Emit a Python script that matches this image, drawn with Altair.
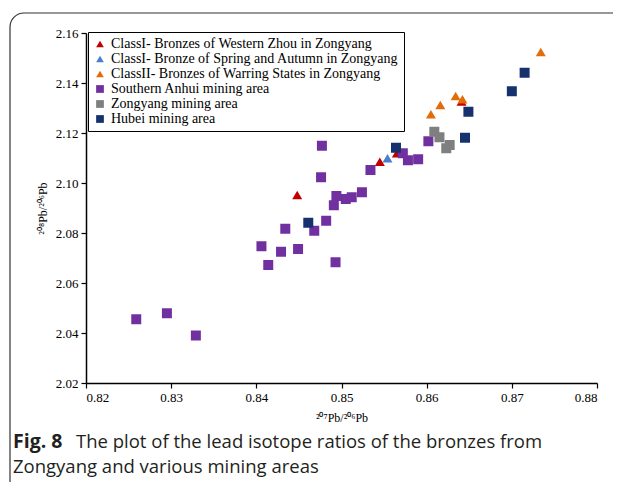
import altair as alt
import pandas as pd

# ---- data ----
series_names = [
    "ClassI- Bronzes of Western Zhou in Zongyang",
    "ClassI- Bronze of Spring and Autumn in Zongyang",
    "ClassII- Bronzes of Warring States in Zongyang",
    "Southern Anhui mining area",
    "Zongyang mining area",
    "Hubei mining area",
]
series_colors = ["#C00000", "#4A7FD0", "#E36C0A", "#7030A0", "#7F7F7F", "#16326E"]
series_shapes = ["triangle-up", "triangle-up", "triangle-up", "square", "square", "square"]

western_zhou_x = [0.8448, 0.8545, 0.8565, 0.8641]
western_zhou_y = [2.0952, 2.1085, 2.1119, 2.1326]

spring_autumn_x = [0.8554]
spring_autumn_y = [2.1099]

warring_x = [0.8605, 0.8616, 0.8634, 0.8642, 0.8734]
warring_y = [2.1275, 2.1312, 2.1348, 2.1335, 2.1524]

anhui_x = [0.8259, 0.8295, 0.8329, 0.8406, 0.8414, 0.8429, 0.8434, 0.8449,
           0.8468, 0.8476, 0.8477, 0.8482, 0.8491, 0.8493, 0.8494, 0.8505,
           0.8512, 0.8524, 0.8534, 0.8572, 0.8578, 0.8590, 0.8602]
anhui_y = [2.0455, 2.0479, 2.0390, 2.0747, 2.0672, 2.0725, 2.0817, 2.0736,
           2.0809, 2.1023, 2.1149, 2.0849, 2.0911, 2.0683, 2.0948, 2.0936,
           2.0943, 2.0963, 2.1052, 2.1119, 2.1091, 2.1095, 2.1167]

zongyang_x = [0.8609, 0.8615, 0.8627, 0.8623]
zongyang_y = [2.1205, 2.1183, 2.1152, 2.1139]

hubei_x = [0.8461, 0.8564, 0.8645, 0.8649, 0.8700, 0.8715]
hubei_y = [2.0841, 2.1141, 2.1181, 2.1285, 2.1367, 2.1441]

x_ticks = [0.82, 0.83, 0.84, 0.85, 0.86, 0.87, 0.88]
y_ticks = [2.02, 2.04, 2.06, 2.08, 2.10, 2.12, 2.14, 2.16]

x_title = "²⁰⁷Pb/²⁰⁶Pb"
y_title = "²⁰⁸Pb/²⁰⁶Pb"
caption_bold = "Fig. 8"
caption_line1 = "The plot of the lead isotope ratios of the bronzes from"
caption_line2 = "Zongyang and various mining areas"

# ---- build table ----
groups = [
    (western_zhou_x, western_zhou_y),
    (spring_autumn_x, spring_autumn_y),
    (warring_x, warring_y),
    (anhui_x, anhui_y),
    (zongyang_x, zongyang_y),
    (hubei_x, hubei_y),
]
rows = []
order = 0
for name, (xs, ys) in zip(series_names, groups):
    for xv, yv in zip(xs, ys):
        rows.append({"series": name, "x": xv, "y": yv, "order": order})
        order += 1
df = pd.DataFrame(rows)

serif = "Liberation Serif"
W, H = 511, 350

points = alt.Chart(df).mark_point(filled=True, opacity=1, size=100).encode(
    x=alt.X("x:Q", title=x_title,
            scale=alt.Scale(domain=[0.82, 0.88], nice=False, zero=False),
            axis=alt.Axis(values=x_ticks, format=".2f", grid=False,
                          titleFontSize=12, titleFontWeight="normal",
                          titlePadding=8)),
    y=alt.Y("y:Q", title=y_title,
            scale=alt.Scale(domain=[2.02, 2.16], nice=False, zero=False),
            axis=alt.Axis(values=y_ticks, format=".2f", grid=False,
                          titleFontSize=12, titleFontWeight="normal",
                          titlePadding=6)),
    color=alt.Color("series:N",
                    scale=alt.Scale(domain=series_names, range=series_colors),
                    legend=alt.Legend(title=None, orient="none", legendX=2, legendY=-1,
                                      padding=5, strokeColor="black",
                                      fillColor="white", labelFontSize=14,
                                      labelFont=serif, labelColor="black",
                                      symbolSize=60, labelOffset=4,
                                      rowPadding=1, labelLimit=400)),
    shape=alt.Shape("series:N",
                    scale=alt.Scale(domain=series_names, range=series_shapes),
                    legend=None),
    order=alt.Order("order:Q"),
)

frame = alt.Chart(pd.DataFrame({"a": [0]})).mark_rect(
    fill="transparent", stroke="#333333", strokeWidth=1.2, cornerRadius=14
).encode(
    x=alt.value(-76), x2=alt.value(700),
    y=alt.value(-20), y2=alt.value(520),
)

cap_font = "Open Sans"
cap1b = alt.Chart(pd.DataFrame({"t": [caption_bold]})).mark_text(
    align="left", baseline="middle", font=cap_font, fontSize=19.5,
    fontWeight="bold", color="#231F20"
).encode(text="t:N", x=alt.value(-73), y=alt.value(409))

cap1 = alt.Chart(pd.DataFrame({"t": [caption_line1]})).mark_text(
    align="left", baseline="middle", font=cap_font, fontSize=18.5,
    color="#231F20"
).encode(text="t:N", x=alt.value(-10), y=alt.value(409))

cap2 = alt.Chart(pd.DataFrame({"t": [caption_line2]})).mark_text(
    align="left", baseline="middle", font=cap_font, fontSize=18.5,
    color="#231F20"
).encode(text="t:N", x=alt.value(-73), y=alt.value(434))

chart = alt.layer(frame, points, cap1b, cap1, cap2).properties(
    width=W, height=H,
    padding={"left": 78, "top": 25, "right": 16, "bottom": 99},
    autosize=alt.AutoSizeParams(type="none"),
    background="white",
).configure_view(stroke=None).configure_axis(
    labelFont=serif, titleFont=serif, labelFontSize=13, labelColor="black",
    titleColor="black", domainColor="black", tickColor="black",
    domainWidth=1.5, tickWidth=1.2, tickSize=5, labelPadding=3,
)

chart.save("out.html", embed_options={"renderer": "svg", "actions": False})
